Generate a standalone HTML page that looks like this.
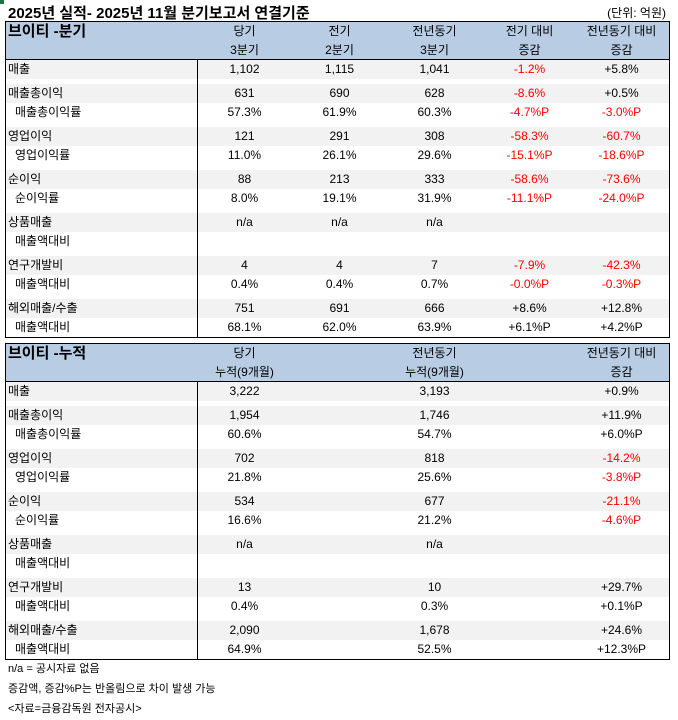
<!DOCTYPE html>
<html><head><meta charset="utf-8"><style>
body{margin:0;width:678px;height:720px;background:#fff;position:relative;font-family:"Liberation Sans","Noto Sans CJK KR",sans-serif;font-size:12px;color:#000;overflow:hidden}
.t{position:absolute;left:5px;width:663px;border:1px solid #000;box-sizing:content-box}
.hd{position:relative;height:37px;background:#b8cce4;border-bottom:1px solid #000}
.r{position:relative;height:19px;line-height:19px;white-space:nowrap}
.g{background:#f2f2f2}
.sp{height:5px}
.c{position:absolute;top:0;width:95px;text-align:center}
.l{position:absolute;left:2px;top:0}
.l2{left:9px}
.red{color:#f00}
.vl{position:absolute;left:191px;top:38px;bottom:0;border-left:1px solid #000;z-index:5}
.h1{position:absolute;top:0;line-height:19px}
.h2{position:absolute;top:19px;line-height:19px}
.note{position:absolute;left:8px;font-size:11px}
</style></head><body>
<div style="position:absolute;left:0;top:0;width:4px;height:4px;background:#217346"></div>
<div style="position:absolute;left:8px;top:2px;font-size:15px;font-weight:bold">2025년 실적- 2025년 11월 분기보고서 연결기준</div>
<div style="position:absolute;right:12px;top:4px">(단위: 억원)</div>

<div class="t" style="top:21px;height:315px">
<div class="hd">
<div class="h1" style="left:2px;font-size:15px;font-weight:bold">브이티 -분기</div>
<div class="c h1" style="left:191px">당기</div><div class="c h2" style="left:191px">3분기</div>
<div class="c h1" style="left:286px">전기</div><div class="c h2" style="left:286px">2분기</div>
<div class="c h1" style="left:381px">전년동기</div><div class="c h2" style="left:381px">3분기</div>
<div class="c h1" style="left:476px">전기 대비</div><div class="c h2" style="left:476px">증감</div>
<div class="c h1" style="left:568px">전년동기 대비</div><div class="c h2" style="left:568px">증감</div>
</div>
<div class="vl"></div>
<div class="r g"><span class="l">매출</span><span class="c" style="left:191px">1,102</span><span class="c" style="left:286px">1,115</span><span class="c" style="left:381px">1,041</span><span class="c red" style="left:476px">-1.2%</span><span class="c" style="left:568px">+5.8%</span></div>
<div class="sp"></div>
<div class="r g"><span class="l">매출총이익</span><span class="c" style="left:191px">631</span><span class="c" style="left:286px">690</span><span class="c" style="left:381px">628</span><span class="c red" style="left:476px">-8.6%</span><span class="c" style="left:568px">+0.5%</span></div>
<div class="r"><span class="l l2">매출총이익률</span><span class="c" style="left:191px">57.3%</span><span class="c" style="left:286px">61.9%</span><span class="c" style="left:381px">60.3%</span><span class="c red" style="left:476px">-4.7%P</span><span class="c red" style="left:568px">-3.0%P</span></div>
<div class="sp"></div>
<div class="r g"><span class="l">영업이익</span><span class="c" style="left:191px">121</span><span class="c" style="left:286px">291</span><span class="c" style="left:381px">308</span><span class="c red" style="left:476px">-58.3%</span><span class="c red" style="left:568px">-60.7%</span></div>
<div class="r"><span class="l l2">영업이익률</span><span class="c" style="left:191px">11.0%</span><span class="c" style="left:286px">26.1%</span><span class="c" style="left:381px">29.6%</span><span class="c red" style="left:476px">-15.1%P</span><span class="c red" style="left:568px">-18.6%P</span></div>
<div class="sp"></div>
<div class="r g"><span class="l">순이익</span><span class="c" style="left:191px">88</span><span class="c" style="left:286px">213</span><span class="c" style="left:381px">333</span><span class="c red" style="left:476px">-58.6%</span><span class="c red" style="left:568px">-73.6%</span></div>
<div class="r"><span class="l l2">순이익률</span><span class="c" style="left:191px">8.0%</span><span class="c" style="left:286px">19.1%</span><span class="c" style="left:381px">31.9%</span><span class="c red" style="left:476px">-11.1%P</span><span class="c red" style="left:568px">-24.0%P</span></div>
<div class="sp"></div>
<div class="r g"><span class="l">상품매출</span><span class="c" style="left:191px">n/a</span><span class="c" style="left:286px">n/a</span><span class="c" style="left:381px">n/a</span></div>
<div class="r"><span class="l l2">매출액대비</span></div>
<div class="sp"></div>
<div class="r g"><span class="l">연구개발비</span><span class="c" style="left:191px">4</span><span class="c" style="left:286px">4</span><span class="c" style="left:381px">7</span><span class="c red" style="left:476px">-7.9%</span><span class="c red" style="left:568px">-42.3%</span></div>
<div class="r"><span class="l l2">매출액대비</span><span class="c" style="left:191px">0.4%</span><span class="c" style="left:286px">0.4%</span><span class="c" style="left:381px">0.7%</span><span class="c red" style="left:476px">-0.0%P</span><span class="c red" style="left:568px">-0.3%P</span></div>
<div class="sp"></div>
<div class="r g"><span class="l">해외매출/수출</span><span class="c" style="left:191px">751</span><span class="c" style="left:286px">691</span><span class="c" style="left:381px">666</span><span class="c" style="left:476px">+8.6%</span><span class="c" style="left:568px">+12.8%</span></div>
<div class="r"><span class="l l2">매출액대비</span><span class="c" style="left:191px">68.1%</span><span class="c" style="left:286px">62.0%</span><span class="c" style="left:381px">63.9%</span><span class="c" style="left:476px">+6.1%P</span><span class="c" style="left:568px">+4.2%P</span></div>
</div>

<div class="t" style="top:343px;height:315px">
<div class="hd">
<div class="h1" style="left:2px;font-size:15px;font-weight:bold">브이티 -누적</div>
<div class="c h1" style="left:191px">당기</div><div class="c h2" style="left:191px">누적(9개월)</div>
<div class="c h1" style="left:381px">전년동기</div><div class="c h2" style="left:381px">누적(9개월)</div>
<div class="c h1" style="left:568px">전년동기 대비</div><div class="c h2" style="left:568px">증감</div>
</div>
<div class="vl"></div>
<div class="r g"><span class="l">매출</span><span class="c" style="left:191px">3,222</span><span class="c" style="left:381px">3,193</span><span class="c" style="left:568px">+0.9%</span></div>
<div class="sp"></div>
<div class="r g"><span class="l">매출총이익</span><span class="c" style="left:191px">1,954</span><span class="c" style="left:381px">1,746</span><span class="c" style="left:568px">+11.9%</span></div>
<div class="r"><span class="l l2">매출총이익률</span><span class="c" style="left:191px">60.6%</span><span class="c" style="left:381px">54.7%</span><span class="c" style="left:568px">+6.0%P</span></div>
<div class="sp"></div>
<div class="r g"><span class="l">영업이익</span><span class="c" style="left:191px">702</span><span class="c" style="left:381px">818</span><span class="c red" style="left:568px">-14.2%</span></div>
<div class="r"><span class="l l2">영업이익률</span><span class="c" style="left:191px">21.8%</span><span class="c" style="left:381px">25.6%</span><span class="c red" style="left:568px">-3.8%P</span></div>
<div class="sp"></div>
<div class="r g"><span class="l">순이익</span><span class="c" style="left:191px">534</span><span class="c" style="left:381px">677</span><span class="c red" style="left:568px">-21.1%</span></div>
<div class="r"><span class="l l2">순이익률</span><span class="c" style="left:191px">16.6%</span><span class="c" style="left:381px">21.2%</span><span class="c red" style="left:568px">-4.6%P</span></div>
<div class="sp"></div>
<div class="r g"><span class="l">상품매출</span><span class="c" style="left:191px">n/a</span><span class="c" style="left:381px">n/a</span></div>
<div class="r"><span class="l l2">매출액대비</span></div>
<div class="sp"></div>
<div class="r g"><span class="l">연구개발비</span><span class="c" style="left:191px">13</span><span class="c" style="left:381px">10</span><span class="c" style="left:568px">+29.7%</span></div>
<div class="r"><span class="l l2">매출액대비</span><span class="c" style="left:191px">0.4%</span><span class="c" style="left:381px">0.3%</span><span class="c" style="left:568px">+0.1%P</span></div>
<div class="sp"></div>
<div class="r g"><span class="l">해외매출/수출</span><span class="c" style="left:191px">2,090</span><span class="c" style="left:381px">1,678</span><span class="c" style="left:568px">+24.6%</span></div>
<div class="r"><span class="l l2">매출액대비</span><span class="c" style="left:191px">64.9%</span><span class="c" style="left:381px">52.5%</span><span class="c" style="left:568px">+12.3%P</span></div>
</div>

<div class="note" style="top:660px">n/a = 공시자료 없음</div>
<div class="note" style="top:680px">증감액, 증감%P는 반올림으로 차이 발생 가능</div>
<div class="note" style="top:700px">&lt;자료=금융감독원 전자공시&gt;</div>
</body></html>
